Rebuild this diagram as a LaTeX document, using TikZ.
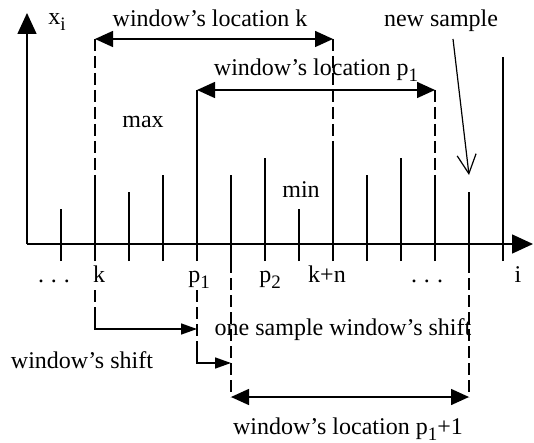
\documentclass[tikz,border=0pt]{standalone}
\usepackage{fontspec}
\setmainfont{Liberation Serif}
\usetikzlibrary{arrows.meta}
\newcommand{\lowsub}[1]{\raisebox{-6pt}{\fontsize{19}{19}\selectfont #1}}
\begin{document}
\begin{tikzpicture}[x=1pt,y=-1pt,line width=1.5pt,
  lbl/.style={font=\fontsize{24}{28}\selectfont,inner sep=0pt,anchor=base},
  dsh/.style={dash pattern=on 12pt off 5pt},
  bigarr/.style={{Triangle[length=18pt,width=16pt]}-{Triangle[length=18pt,width=16pt]}},
  smallarr/.style={-{Triangle[length=16pt,width=11pt]}},
  axarr/.style={-{Triangle[length=21pt,width=19pt]}},
  openarr/.style={-{Straight Barb[length=19pt,width=19pt]},line width=1.2pt}]
\useasboundingbox (0,0) rectangle (534,443);
% axes
\coordinate (o) at (27,244);
\coordinate (ytop) at (27,13);
\coordinate (xend) at (533,244);
\draw[axarr] (o) -- (ytop);
\draw[axarr] (o) -- (xend);
% samples
\foreach \i/\h in {0/209,1/177,2/192,3/175,4/100,5/175,6/158,7/209,8/148,9/175,10/158,11/175,12/192,13/57}{
  \coordinate (b\i) at ({61+34*\i},261);
  \coordinate (t\i) at ({61+34*\i},\h);
  \draw (b\i) -- (t\i);
}
% window k
\coordinate (wk1) at (95,39);
\coordinate (wk2) at (333,39);
\draw[dsh] (wk1) -- (t1);
\draw[dsh] (wk2) -- (t8);
\draw[bigarr] (wk1) -- (wk2);
\node[lbl] (lk) at (210,27) {window’s location k};
% window p1
\coordinate (wp1) at (197,90);
\coordinate (wp2) at (435,90);
\draw[dsh] (wp1) -- (t4);
\draw[dsh] (wp2) -- (t11);
\draw[bigarr] (wp1) -- (wp2);
\node[lbl] (lp) at (316,76) {window’s location p\lowsub{1}};
% labels
\node[lbl] (xi) at (57,25) {x\lowsub{i}};
\node[lbl] (max) at (143,128) {max};
\node[lbl] (min) at (301,198) {min};
\node[lbl] (ns) at (441,27) {new sample};
\coordinate (nsa) at (453,39);
\coordinate (nsb) at (469,175);
\draw[openarr] (nsa) -- (nsb);
% tick labels
\node[lbl] (d1) at (54,282) {.\hspace{7pt}.\hspace{7pt}.};
\node[lbl] (lk0) at (99,282) {k};
\node[lbl] (lp1) at (199,282) {p\lowsub{1}};
\node[lbl] (lp2) at (270,282) {p\lowsub{2}};
\node[lbl] (lkn) at (327,282) {k+n};
\node[lbl] (d2) at (427,282) {.\hspace{7pt}.\hspace{7pt}.};
\node[lbl] (li) at (518,282) {i};
% shifts below
\coordinate (kd) at (95,290);
\coordinate (kc) at (95,313);
\coordinate (kr) at (197,329);
\draw[dsh] (kd) -- (kc);
\draw[smallarr] (kc) |- (kr);
\coordinate (pd) at (197,290);
\coordinate (pc) at (197,350);
\coordinate (pr) at (231,363);
\draw[dsh] (pd) -- (pc);
\draw[smallarr] (pc) |- (pr);
\node[lbl] (os) at (343,335) {one sample window’s shift};
\node[lbl] (ws) at (82,368) {window’s shift};
% window p1+1
\coordinate (wq1) at (231,397);
\coordinate (wq2) at (469,397);
\draw[dsh] (b5) -- (wq1);
\draw[dsh] (b12) -- (wq2);
\draw[bigarr] (wq1) -- (wq2);
\node[lbl] (lq) at (348,434) {window’s location p\lowsub{1}+1};
\end{tikzpicture}
\end{document}
